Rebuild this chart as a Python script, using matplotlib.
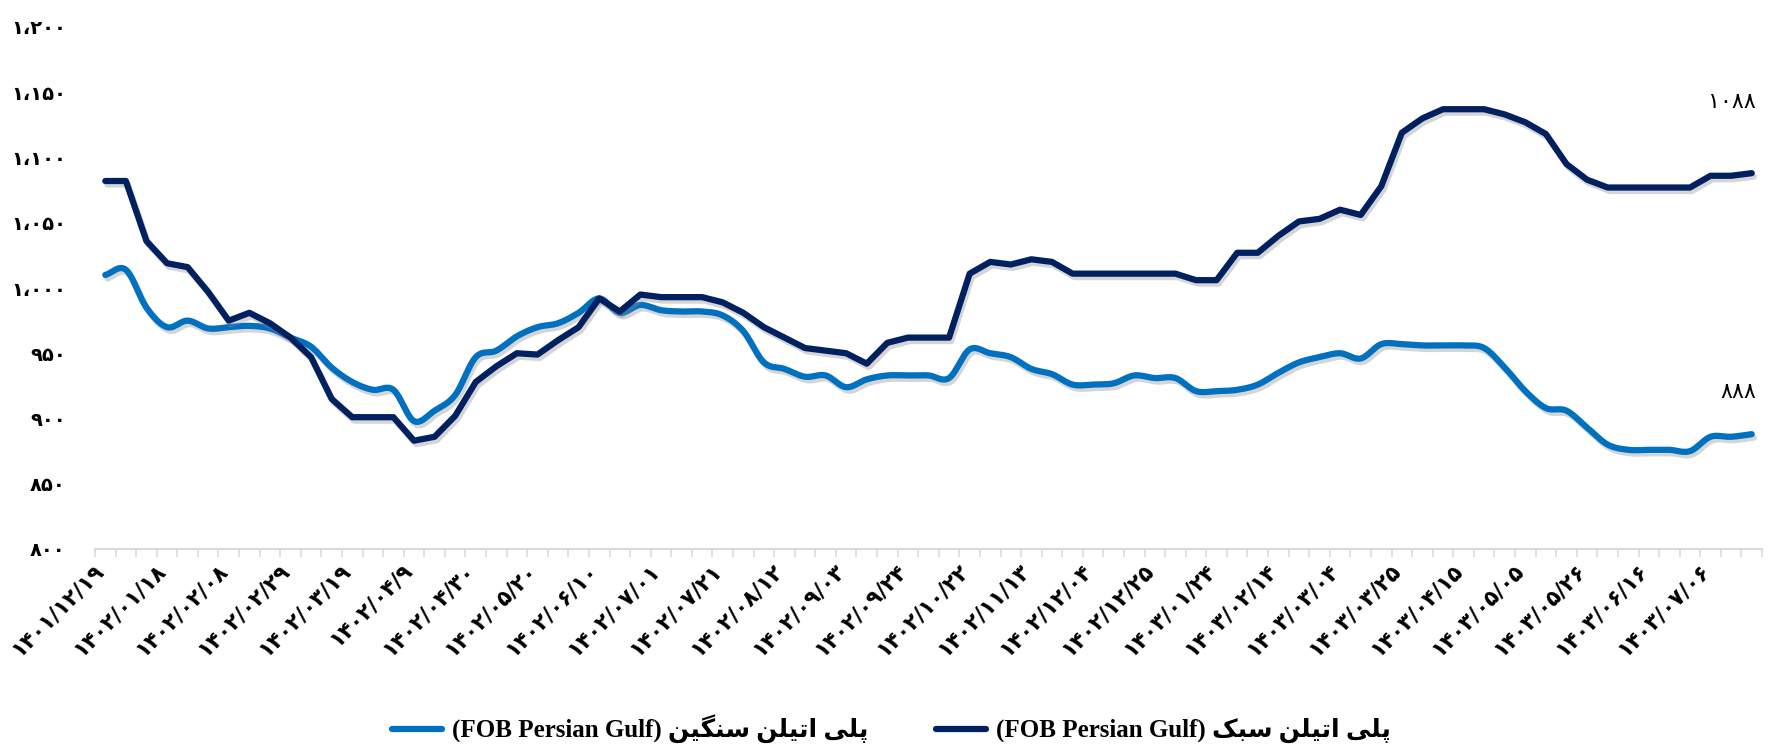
import numpy as np
import matplotlib
matplotlib.use("Agg")
import matplotlib.pyplot as plt
import matplotlib.patheffects as pe
import matplotlib.transforms as mtransforms
from matplotlib.lines import Line2D

# ---------------- data ----------------
tick_labels = ["1401/12/19", "1402/01/18", "1402/02/08", "1402/02/29", "1402/03/19",
               "1402/04/9", "1402/04/30", "1402/05/20", "1402/06/10", "1402/07/01",
               "1402/07/21", "1402/08/12", "1402/09/03", "1402/09/24", "1402/10/22",
               "1402/11/13", "1402/12/04", "1402/12/25", "1403/01/24", "1403/02/14",
               "1403/03/04", "1403/03/25", "1403/04/15", "1403/05/05", "1403/05/26",
               "1403/06/16", "1403/07/06"]

# light polyethylene (dark navy line)
light_pe = [1082, 1082, 1036, 1019, 1016, 997, 975, 981, 973, 962,
            947, 915, 901, 901, 901, 883, 886, 902, 928, 940,
            950, 949, 960, 970, 992, 982, 995, 993, 993, 993,
            989, 981, 970, 962, 954, 952, 950, 942, 958, 962,
            962, 962, 1011, 1020, 1018, 1022, 1020, 1011, 1011, 1011,
            1011, 1011, 1011, 1006, 1006, 1027, 1027, 1040, 1051, 1053,
            1060, 1056, 1078, 1119, 1130, 1137, 1137, 1137, 1133, 1127,
            1118, 1095, 1083, 1077, 1077, 1077, 1077, 1077, 1086, 1086,
            1088]

# heavy polyethylene (light blue line)
heavy_pe = [1010, 1014, 985, 970, 975, 969, 970, 971, 969, 962,
            955, 939, 928, 922, 922, 898, 906, 918, 947, 952,
            963, 970, 973, 981, 992, 981, 987, 983, 982, 982,
            979, 967, 943, 938, 932, 933, 924, 930, 933, 933,
            933, 931, 953, 950, 947, 938, 934, 926, 926, 927,
            933, 931, 931, 921, 921, 922, 926, 935, 943, 947,
            950, 946, 957, 957, 956, 956, 956, 954, 939, 921,
            908, 906, 893, 880, 876, 876, 876, 875, 886, 886,
            888]

y_ticks = [800, 850, 900, 950, 1000, 1050, 1100, 1150, 1200]

series_light_name = "پلی اتیلن سبک"
series_heavy_name = "پلی اتیلن سنگین"
series_suffix = "(FOB Persian Gulf)"

# ---------------- helpers ----------------
FA_DIGITS = str.maketrans("0123456789,", "۰۱۲۳۴۵۶۷۸۹،")


def fa_num(s):
    return s.translate(FA_DIGITS)


# presentation forms: isolated, final, initial, medial
FORMS = {
    "ا": ("\uFE8D", "\uFE8E", None, None),
    "ب": ("\uFE8F", "\uFE90", "\uFE91", "\uFE92"),
    "ت": ("\uFE95", "\uFE96", "\uFE97", "\uFE98"),
    "س": ("\uFEB1", "\uFEB2", "\uFEB3", "\uFEB4"),
    "ل": ("\uFEDD", "\uFEDE", "\uFEDF", "\uFEE0"),
    "ن": ("\uFEE5", "\uFEE6", "\uFEE7", "\uFEE8"),
    "پ": ("\uFB56", "\uFB57", "\uFB58", "\uFB59"),
    "ک": ("\uFB8E", "\uFB8F", "\uFB90", "\uFB91"),
    "گ": ("\uFB92", "\uFB93", "\uFB94", "\uFB95"),
    "ی": ("\uFBFC", "\uFBFD", "\uFBFE", "\uFBFF"),
}


def dual(ch):
    return ch in FORMS and FORMS[ch][2] is not None


def shape_word(w):
    out = []
    for i, ch in enumerate(w):
        if ch not in FORMS:
            out.append(ch)
            continue
        prev_join = i > 0 and dual(w[i - 1])
        next_join = dual(ch) and i + 1 < len(w) and w[i + 1] in FORMS
        iso, fin, ini, med = FORMS[ch]
        if prev_join and next_join:
            out.append(med)
        elif prev_join:
            out.append(fin)
        elif next_join:
            out.append(ini)
        else:
            out.append(iso)
    return "".join(out)


def rtl_visual(s):
    shaped = " ".join(shape_word(w) for w in s.split(" "))
    return shaped[::-1]


def smooth(xs, ys, n=12):
    xs = np.asarray(xs, float)
    ys = np.asarray(ys, float)
    px = np.concatenate([[2 * xs[0] - xs[1]], xs, [2 * xs[-1] - xs[-2]]])
    py = np.concatenate([[2 * ys[0] - ys[1]], ys, [2 * ys[-1] - ys[-2]]])
    ox, oy = [], []
    t = np.linspace(0, 1, n, endpoint=False)
    for i in range(1, len(px) - 2):
        for P, O in ((px, ox), (py, oy)):
            p0, p1, p2, p3 = P[i - 1], P[i], P[i + 1], P[i + 2]
            O.extend(0.5 * ((2 * p1) + (-p0 + p2) * t +
                            (2 * p0 - 5 * p1 + 4 * p2 - p3) * t ** 2 +
                            (-p0 + 3 * p1 - 3 * p2 + p3) * t ** 3))
    ox.append(xs[-1])
    oy.append(ys[-1])
    return np.array(ox), np.array(oy)


# ---------------- plot ----------------
FONT = ["Liberation Serif", "DejaVu Sans"]
NUMFONT = ["DejaVu Sans"]
DARK = "#002060"
BLUE = "#0070C0"

fig = plt.figure(figsize=(17.83, 7.49), dpi=100)
ax = fig.add_axes([95 / 1783, 1 - 549 / 749, (1762 - 95) / 1783, (549 - 27) / 749])

x = np.arange(len(light_pe))
shadow = [pe.SimpleLineShadow(offset=(1.5, -2.5), shadow_color="#888888", alpha=0.35), pe.Normal()]

ax.plot(x, light_pe, color=DARK, lw=4.5, solid_capstyle="round", solid_joinstyle="round",
        path_effects=shadow, zorder=3)
sx, sy = smooth(x, heavy_pe)
ax.plot(sx, sy, color=BLUE, lw=4.5, solid_capstyle="round", solid_joinstyle="round",
        path_effects=shadow, zorder=2)

ax.set_xlim(-0.5, len(x) - 0.5)
ax.set_ylim(800, 1200)

# y axis
ax.set_yticks(y_ticks)
ax.set_yticklabels([fa_num(f"{v:,}") for v in y_ticks], family=NUMFONT,
                   fontsize=14, fontweight="bold")
ax.tick_params(axis="y", length=0, pad=21)

# x axis: category ticks between points
ax.set_xticks(np.arange(-0.5, len(x), 1.0), minor=True)
ax.tick_params(axis="x", which="minor", length=6, width=1.2, color="#d9d9d9")
ax.set_xticks(np.arange(0, len(x), 3))
ax.set_xticklabels([fa_num(t) for t in tick_labels], rotation=45, ha="right",
                   va="top", rotation_mode="anchor", family=NUMFONT,
                   fontsize=15.5, fontweight="bold")
ax.tick_params(axis="x", which="major", length=0, pad=8)
shift = mtransforms.ScaledTranslation(-12 / 100, 0, fig.dpi_scale_trans)
for lab in ax.get_xticklabels():
    lab.set_transform(lab.get_transform() + shift)

for side in ("top", "right", "left"):
    ax.spines[side].set_visible(False)
ax.spines["bottom"].set_color("#d9d9d9")
ax.spines["bottom"].set_linewidth(1.5)

# end labels
ax.annotate(fa_num(str(light_pe[-1])), xy=(x[-1], light_pe[-1]), xytext=(3, 51),
            textcoords="offset points", ha="right", va="center", family=NUMFONT, fontsize=16)
ax.annotate(fa_num(str(heavy_pe[-1])), xy=(x[-1], heavy_pe[-1]), xytext=(3, 30),
            textcoords="offset points", ha="right", va="center", family=NUMFONT, fontsize=16)

# legend
handles = [Line2D([], [], color=BLUE, lw=4.5, solid_capstyle="round"),
           Line2D([], [], color=DARK, lw=4.5, solid_capstyle="round")]
labels = [series_suffix + " " + rtl_visual(series_heavy_name),
          series_suffix + " " + rtl_visual(series_light_name)]
fig.legend(handles, labels, loc="center", bbox_to_anchor=(0.5, 1 - 729 / 749), ncol=2,
           frameon=False, prop={"family": FONT, "size": 18, "weight": "bold"},
           handlelength=2.0, handletextpad=0.4, columnspacing=2.7)

fig.savefig("out.png", dpi=100)
